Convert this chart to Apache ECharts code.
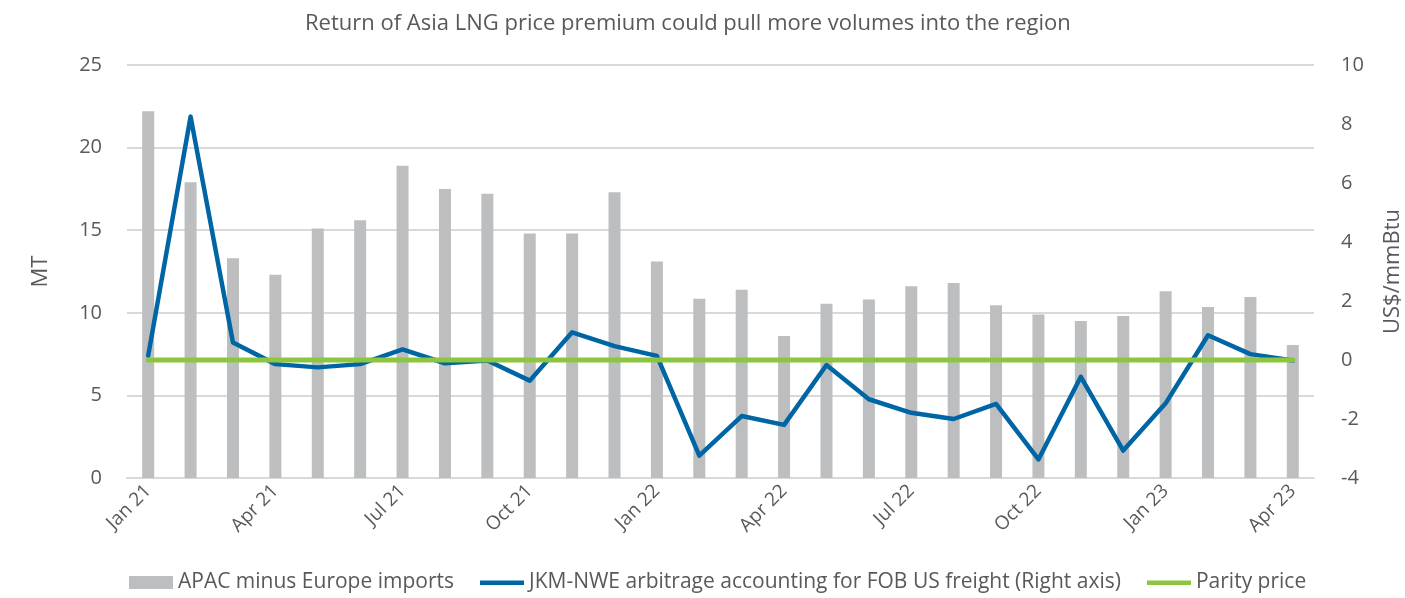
<!DOCTYPE html>
<html><head><meta charset="utf-8">
<script src="https://cdn.jsdelivr.net/npm/echarts@6/dist/echarts.min.js"></script>
<style>html,body{margin:0;padding:0;background:#fff}#c{width:1405px;height:598px}</style>
</head><body><div id="c"></div>
<script>
const categories = ["Jan 21","Feb 21","Mar 21","Apr 21","May 21","Jun 21","Jul 21","Aug 21","Sep 21","Oct 21","Nov 21","Dec 21",
  "Jan 22","Feb 22","Mar 22","Apr 22","May 22","Jun 22","Jul 22","Aug 22","Sep 22","Oct 22","Nov 22","Dec 22",
  "Jan 23","Feb 23","Mar 23","Apr 23"];
const apacMinusEurope = [22.2,17.9,13.3,12.3,15.1,15.6,18.9,17.5,17.2,14.8,14.8,17.3,
  13.1,10.85,11.4,8.6,10.55,10.8,11.6,11.8,10.45,9.9,9.5,9.8,11.3,10.35,10.95,8.05];
const jkmNweArb = [0.15,8.25,0.59,-0.14,-0.25,-0.14,0.36,-0.11,-0.02,-0.7,0.94,0.47,
  0.14,-3.24,-1.9,-2.2,-0.17,-1.33,-1.79,-2.0,-1.49,-3.37,-0.57,-3.07,-1.47,0.84,0.2,-0.02];
const parity = [0,0,0,0,0,0,0,0,0,0,0,0,0,0,0,0,0,0,0,0,0,0,0,0,0,0,0,0];
const leftTicks = {min:0,max:25,interval:5};
const rightTicks = {min:-4,max:10,interval:2};

const FONT = "'Open Sans', sans-serif";
const TXT = '#595959';
const lineIcon = 'path://M0,0h0.01v0.01h-0.01z M0,4.5h44v4.5h-44z M0,13h0.01v-0.01h-0.01z';
const chart = echarts.init(document.getElementById('c'));
chart.setOption({
  animation:false,
  textStyle:{fontFamily:FONT},
  title:{text:"Return of Asia LNG price premium could pull more volumes into the region",
    left:300,top:8,textStyle:{fontFamily:FONT,fontSize:22,fontWeight:'normal',color:TXT}},
  grid:{left:127,right:91,top:65,bottom:120,containLabel:false,outerBoundsMode:'none'},
  legend:{top:567,left:124,itemGap:26,itemWidth:44,itemHeight:13,
    textStyle:{fontFamily:FONT,fontSize:21,color:TXT},
    data:[{name:'APAC minus Europe imports',icon:'rect'},
          {name:'JKM-NWE arbitrage accounting for FOB US freight (Right axis)',icon:lineIcon},
          {name:'Parity price',icon:lineIcon}]},
  xAxis:{type:'category',data:categories,
    axisLine:{lineStyle:{color:'#d9d9d9',width:2}},axisTick:{show:false},
    axisLabel:{interval:2,rotate:45,fontFamily:FONT,fontSize:19,color:TXT,margin:10}},
  yAxis:[
    {type:'value',min:leftTicks.min,max:leftTicks.max,interval:leftTicks.interval,name:'MT',
      nameLocation:'middle',nameGap:75,nameRotate:90,
      nameTextStyle:{fontFamily:FONT,fontSize:22,color:TXT},
      axisLabel:{fontFamily:FONT,fontSize:20,color:TXT,margin:25},
      axisLine:{show:false},axisTick:{show:false},
      splitLine:{lineStyle:{color:'#d9d9d9',width:2}}},
    {type:'value',min:rightTicks.min,max:rightTicks.max,interval:rightTicks.interval,name:'US$/mmBtu',
      nameLocation:'middle',nameGap:68,nameRotate:90,
      nameTextStyle:{fontFamily:FONT,fontSize:22,color:TXT},
      axisLabel:{fontFamily:FONT,fontSize:20,color:TXT,margin:27},
      axisLine:{show:false},axisTick:{show:false},splitLine:{show:false}}
  ],
  series:[
    {name:'APAC minus Europe imports',type:'bar',data:apacMinusEurope,barWidth:12,
      itemStyle:{color:'#bcbec0'}},
    {name:'JKM-NWE arbitrage accounting for FOB US freight (Right axis)',type:'line',yAxisIndex:1,
      data:jkmNweArb,symbol:'none',lineStyle:{color:'#0065a4',width:4.5,cap:'round',join:'round'},itemStyle:{color:'#0065a4'}},
    {name:'Parity price',type:'line',yAxisIndex:1,data:parity,symbol:'none',
      lineStyle:{color:'#8cc63f',width:5,cap:'round'},itemStyle:{color:'#8cc63f'}}
  ]
});
</script></body></html>
